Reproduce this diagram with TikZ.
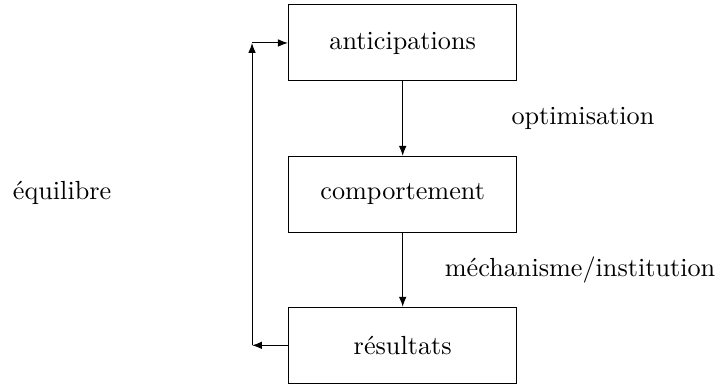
\documentclass[tikz,border=0pt]{standalone}
\usetikzlibrary{arrows.meta}
\begin{document}
\begin{tikzpicture}[x=1pt,y=-1pt,
  box/.style={draw,minimum width=87.2pt,minimum height=29pt,inner sep=0pt},
  arr/.style={-{Latex[length=3.8pt,width=2.9pt]}},
  lbl/.style={anchor=base,inner sep=0pt}]
\useasboundingbox (0,0) rectangle (275.2,146.9);
\node[box] (ant) at (153.7,16.4) {anticipations};
\node[box] (com) at (153.7,74.2) {comportement};
\node[box] (res) at (153.7,131.8) {résultats};
\coordinate (c1) at (96.2,131.8);
\coordinate (c2) at (96.2,16.4);
\draw[arr] (ant) -- (com);
\draw[arr] (com) -- (res);
\draw[arr] (res.west) -- (c1);
\draw[arr] (c1) -- (c2);
\draw[arr] (c2) -- (ant.west);
\node[lbl] (opt) at (222.5,47.7) {optimisation};
\node[lbl] (mec) at (221.4,105.6) {méchanisme/institution};
\node[lbl] (equ) at (23.7,76.3) {équilibre};
\end{tikzpicture}
\end{document}
